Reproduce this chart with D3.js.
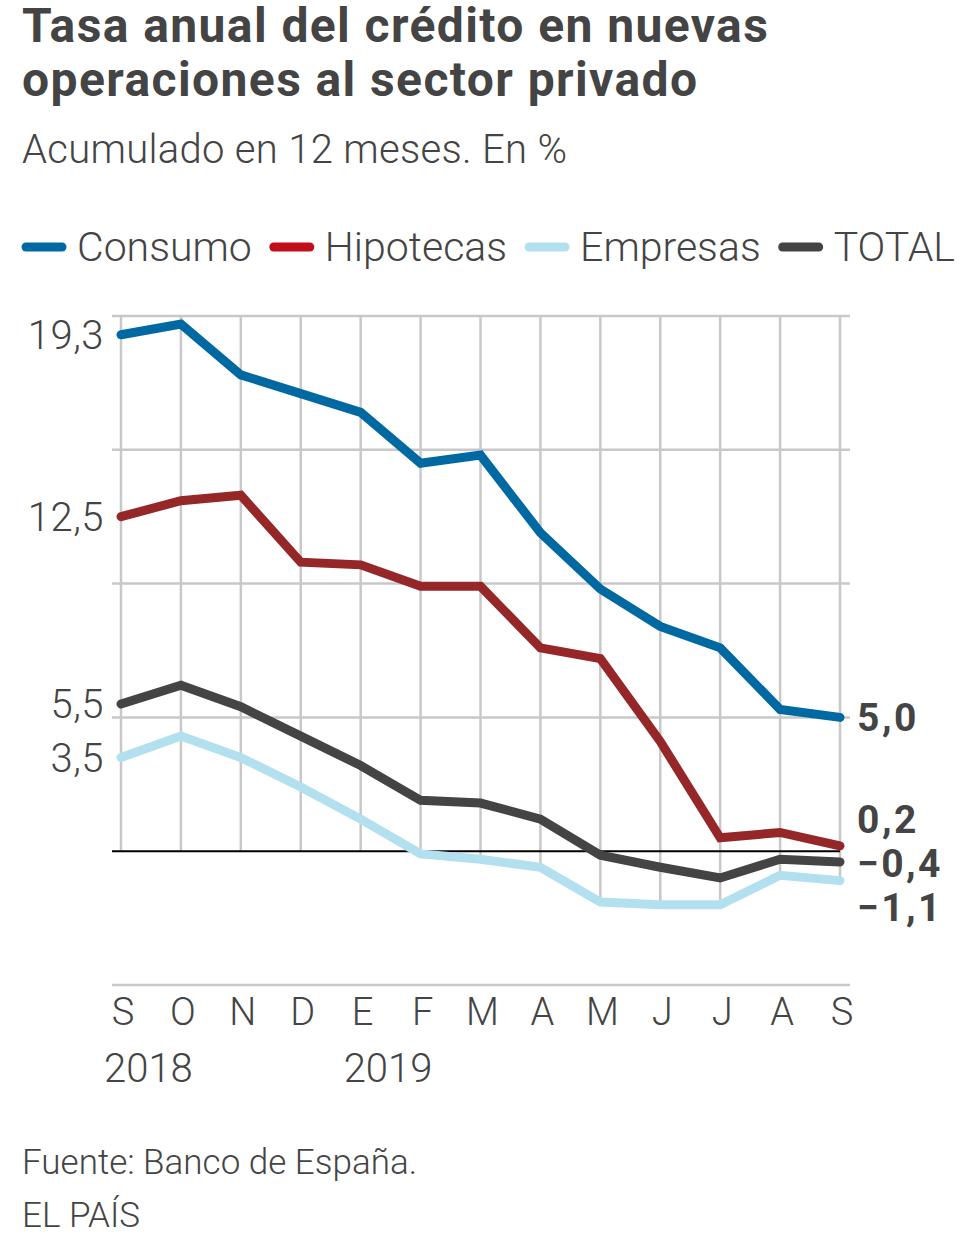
<!DOCTYPE html>
<html>
<head>
<meta charset="utf-8">
<script src="https://cdn.jsdelivr.net/npm/d3@7"></script>
<style>
  body { margin: 0; background: #fff; }
  svg text { font-family: Roboto, "Noto Sans", sans-serif; fill: #444; }
</style>
</head>
<body>
<svg width="980" height="1254"></svg>
<script>
// Data (annual rate, %)
var months = ['S', 'O', 'N', 'D', 'E', 'F', 'M', 'A', 'M', 'J', 'J', 'A', 'S'];
var years = [{label: '2018', index: 0}, {label: '2019', index: 4}];
var seriesNames = ['Consumo', 'Hipotecas', 'Empresas', 'TOTAL'];
var consumo   = [19.3, 19.7, 17.8, 17.1, 16.4, 14.5, 14.8, 11.9, 9.8, 8.4, 7.6, 5.3, 5.0];
var hipotecas = [12.5, 13.1, 13.3, 10.8, 10.7, 9.9, 9.9, 7.6, 7.2, 4.1, 0.5, 0.7, 0.2];
var empresas  = [3.5, 4.3, 3.5, 2.4, 1.2, -0.1, -0.3, -0.6, -1.9, -2.0, -2.0, -0.9, -1.1];
var total     = [5.5, 6.2, 5.4, 4.3, 3.2, 1.9, 1.8, 1.2, -0.15, -0.6, -1.0, -0.3, -0.4];
var yTicks = [-5, 0, 5, 10, 15, 20];

var lineColors = ['#0069a2', '#962729', '#b3e0ef', '#444444'];
var legendColors = ['#0069a2', '#c00f1a', '#b3e0ef', '#444444'];

var series = [consumo, hipotecas, empresas, total].map(function(values, i) {
    return {name: seriesNames[i], values: values, color: lineColors[i], legend: legendColors[i]};
});

var locale = d3.formatLocale({decimal: ',', thousands: '.', grouping: [3], currency: ['', ' €']});
var fmt = locale.format('.1f');

var svg = d3.select('svg');

// Layout
var plot = {l: 112, r: 850, t: 316, b: 985, x0: 121, x1: 840};

var xScale = d3.scalePoint()
    .domain(d3.range(months.length))
    .range([plot.x0, plot.x1]);
var yScale = d3.scaleLinear()
    .domain([-5, 20])
    .range([plot.b, plot.t]);

// Title, subtitle
var title = svg.append('g')
    .style('font-size', '48px').style('font-weight', 700)
    .style('letter-spacing', '1.4px');
title.append('text').attr('x', 22).attr('y', 42)
    .text('Tasa anual del crédito en nuevas');
title.append('text').attr('x', 22).attr('y', 96)
    .text('operaciones al sector privado');
svg.append('text').attr('x', 22).attr('y', 163)
    .style('font-size', '40px').style('font-weight', 300)
    .style('letter-spacing', '0.3px')
    .text('Acumulado en 12 meses. En %');

// Legend
var legendG = svg.append('g').attr('transform', 'translate(0,247)');
var lx = 26;
series.forEach(function(s) {
    legendG.append('line')
        .attr('x1', lx).attr('x2', lx + 36)
        .attr('stroke', s.legend).attr('stroke-width', 9)
        .attr('stroke-linecap', 'round');
    var t = legendG.append('text')
        .attr('x', lx + 51).attr('dy', '0.35em')
        .style('font-size', '41px').style('font-weight', 300)
        .text(s.name);
    lx += 51 + t.node().getComputedTextLength() + 22;
});

// Horizontal grid
svg.append('g').selectAll('line.hgrid')
    .data(yTicks.filter(function(d) { return d !== 0; }))
    .enter().append('line')
    .attr('class', 'hgrid')
    .attr('x1', plot.l).attr('x2', plot.r)
    .attr('y1', function(d) { return yScale(d); })
    .attr('y2', function(d) { return yScale(d); })
    .attr('stroke', '#c8c8c8').attr('stroke-width', 2.5);

// Vertical grid: from top line down to the lowest series (or zero)
svg.append('g').selectAll('line.vgrid')
    .data(months)
    .enter().append('line')
    .attr('class', 'vgrid')
    .attr('x1', function(d, i) { return xScale(i); })
    .attr('x2', function(d, i) { return xScale(i); })
    .attr('y1', yScale(20))
    .attr('y2', function(d, i) {
        var low = d3.min(series, function(s) { return s.values[i]; });
        return yScale(Math.min(0, low));
    })
    .attr('stroke', '#c8c8c8').attr('stroke-width', 2.5);

// Zero line
svg.append('line')
    .attr('x1', plot.l).attr('x2', plot.x1)
    .attr('y1', yScale(0)).attr('y2', yScale(0))
    .attr('stroke', '#000').attr('stroke-width', 2);

// Y labels: first value of each series
svg.append('g').selectAll('text')
    .data(series)
    .enter().append('text')
    .attr('x', 104)
    .attr('y', function(d) { return yScale(d.values[0]); })
    .attr('dy', '0.35em')
    .attr('text-anchor', 'end')
    .style('font-size', '40px').style('font-weight', 300)
    .style('letter-spacing', '0.5px')
    .text(function(d) { return fmt(d.values[0]); });

// Lines
var line = d3.line()
    .x(function(d, i) { return xScale(i); })
    .y(function(d) { return yScale(d); });

svg.append('g').selectAll('path')
    .data(series)
    .enter().append('path')
    .attr('d', function(d) { return line(d.values); })
    .attr('fill', 'none')
    .attr('stroke', function(d) { return d.color; })
    .attr('stroke-width', 9)
    .attr('stroke-linecap', 'round')
    .attr('stroke-linejoin', 'miter');

// End labels, pushed apart so they do not overlap
var last = months.length - 1;
var endLabels = series.map(function(s) {
    return {value: s.values[last], y: yScale(s.values[last])};
}).sort(function(a, b) { return a.y - b.y; });
var minGap = 44;
for (var iter = 0; iter < 50; iter++) {
    for (var k = 1; k < endLabels.length; k++) {
        var a = endLabels[k - 1], b = endLabels[k];
        var overlap = minGap - (b.y - a.y);
        if (overlap > 0) {
            a.y -= overlap / 2;
            b.y += overlap / 2;
        }
    }
}
svg.append('g').selectAll('text')
    .data(endLabels)
    .enter().append('text')
    .attr('x', 857)
    .attr('y', function(d) { return d.y; })
    .attr('dy', '0.36em')
    .style('font-size', '39px').style('font-weight', 700)
    .style('letter-spacing', '2.5px')
    .text(function(d) { return fmt(d.value); });

// X axis: bottom rule is the -5 gridline, month letters, years
svg.append('g').selectAll('text')
    .data(months)
    .enter().append('text')
    .attr('x', function(d, i) { return xScale(i) + 2; })
    .attr('y', 1025)
    .attr('text-anchor', 'middle')
    .style('font-size', '38px').style('font-weight', 300)
    .text(function(d) { return d; });

svg.append('g').selectAll('text')
    .data(years)
    .enter().append('text')
    .attr('x', function(d) { return xScale(d.index) - 17; })
    .attr('y', 1082)
    .style('font-size', '40px').style('font-weight', 300)
    .text(function(d) { return d.label; });

// Footer
svg.append('text').attr('x', 22).attr('y', 1174)
    .style('font-size', '35px').style('font-weight', 300)
    .text('Fuente: Banco de España.');
svg.append('text').attr('x', 22).attr('y', 1227)
    .style('font-size', '35px').style('font-weight', 300)
    .text('EL PAÍS');
</script>
</body>
</html>
